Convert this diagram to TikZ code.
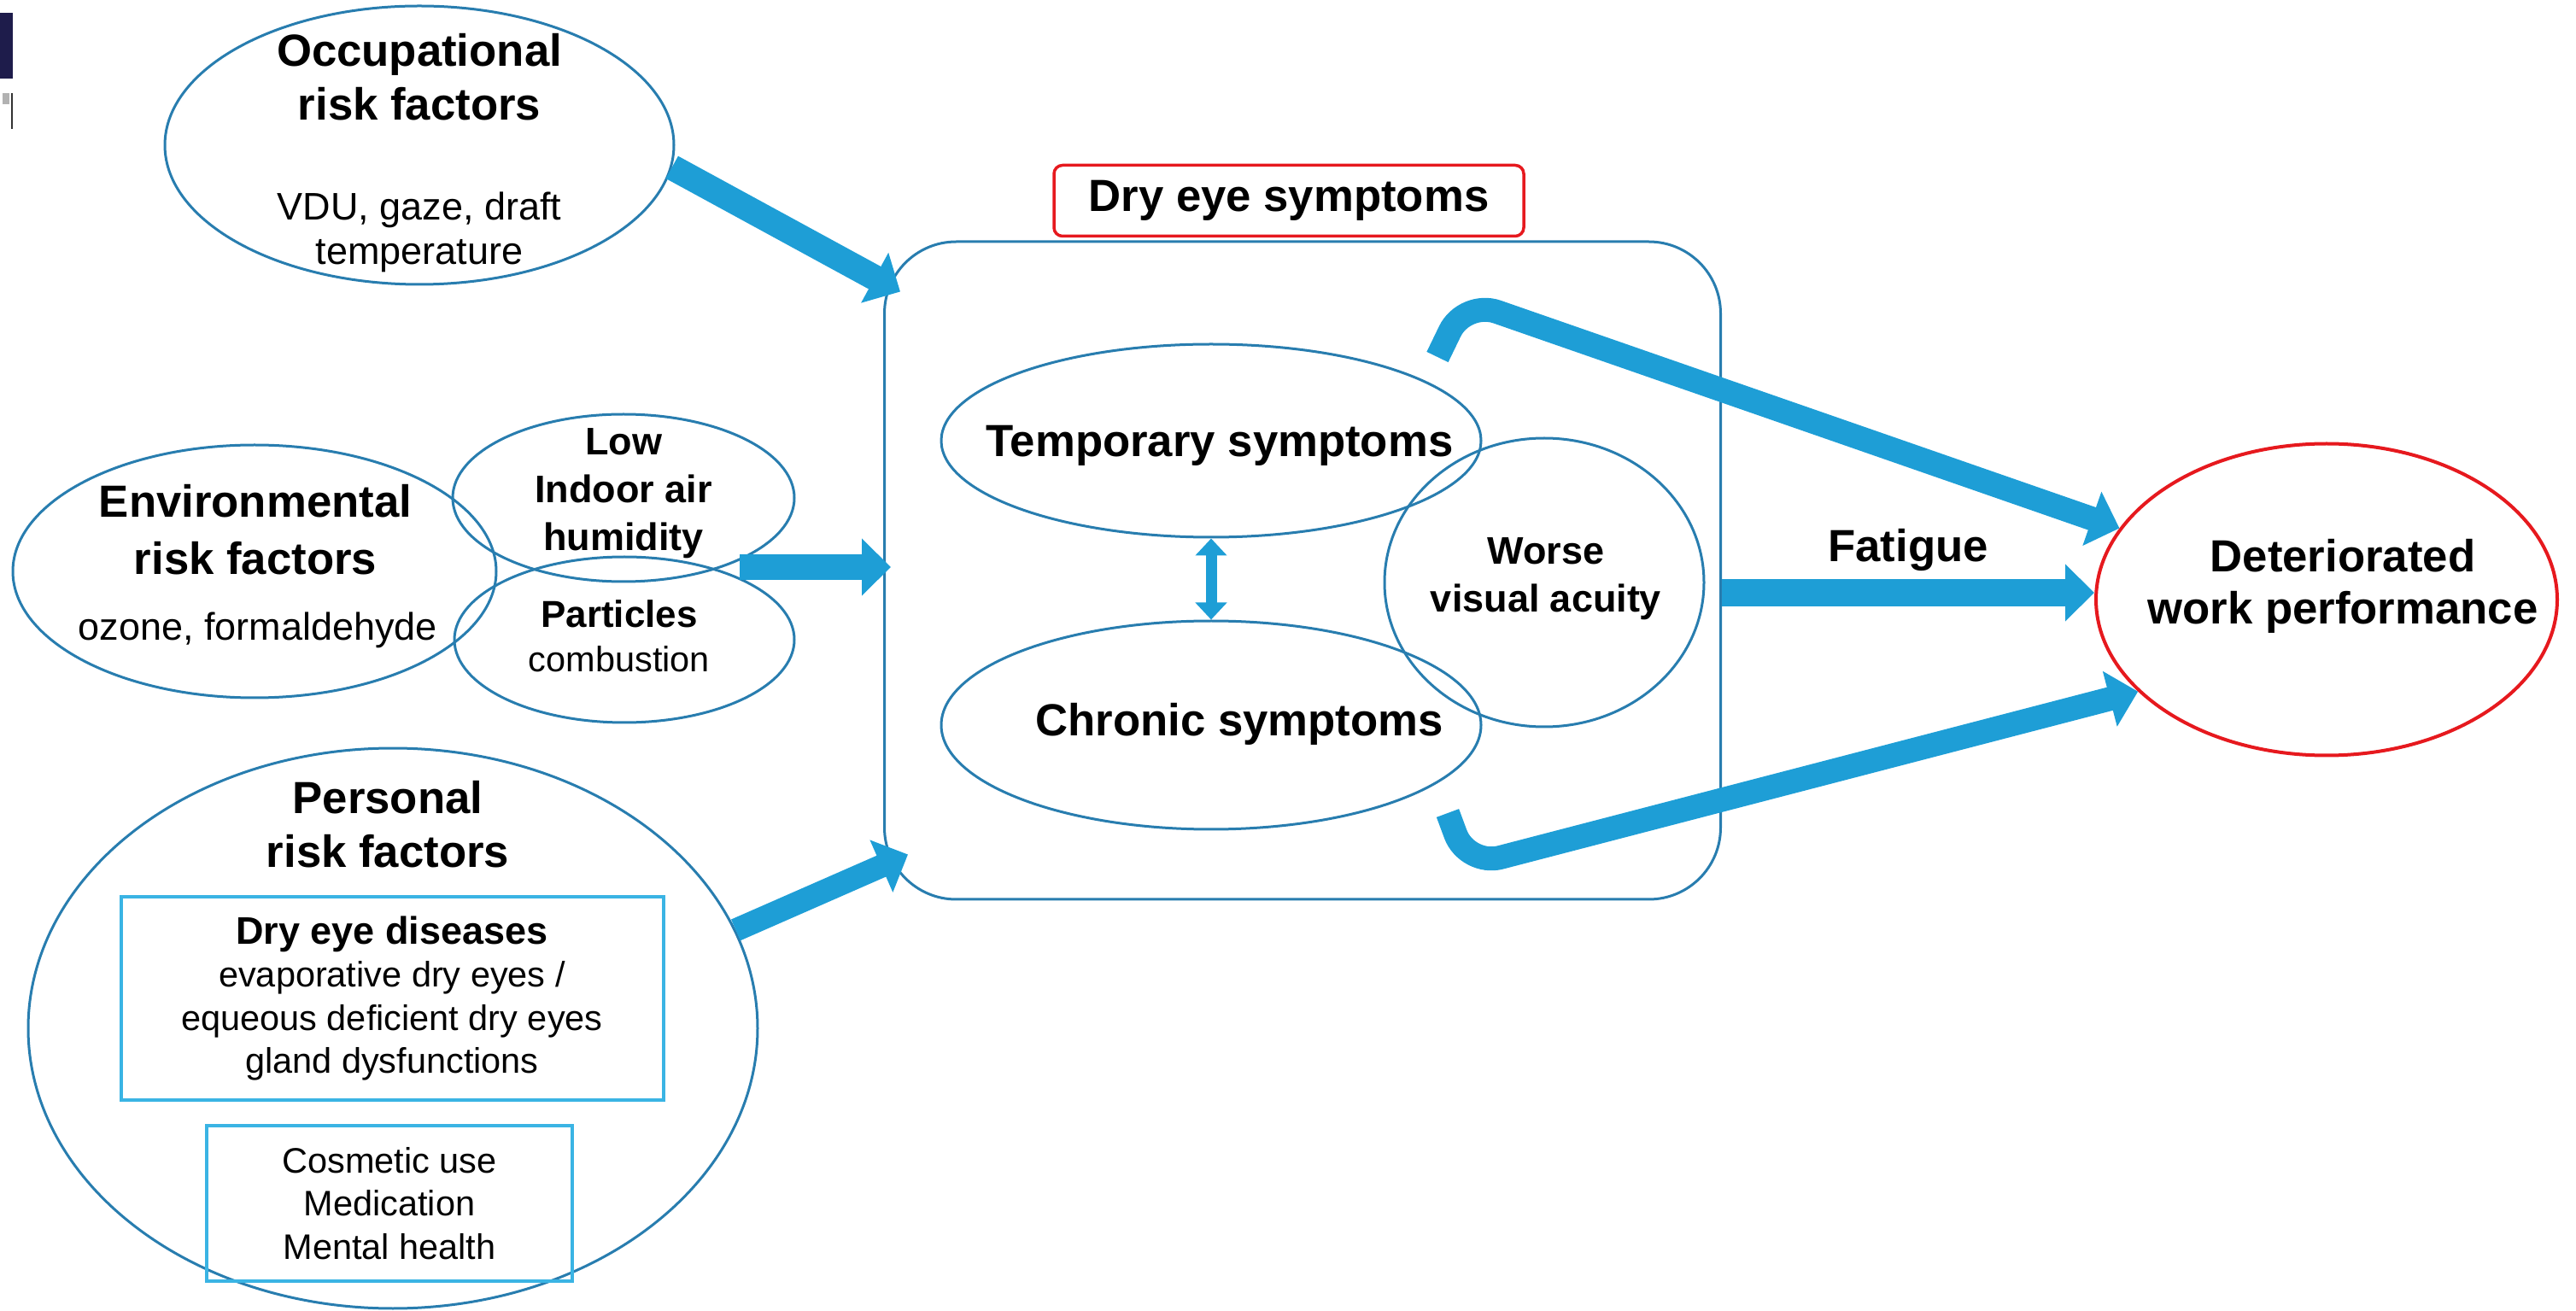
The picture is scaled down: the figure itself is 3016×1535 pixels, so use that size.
\documentclass[tikz,border=0pt]{standalone}
\usepackage{fontspec}
\setmainfont{Liberation Sans}
\usetikzlibrary{positioning, arrows.meta, shapes.geometric, calc}

\definecolor{ringblue}{RGB}{40,125,175}
\definecolor{arrowblue}{RGB}{30,158,214}
\definecolor{boxcyan}{RGB}{58,180,228}
\definecolor{alertred}{RGB}{230,25,30}
\definecolor{slidenavy}{RGB}{30,28,75}

\begin{document}
\begin{tikzpicture}[x=0.1mm, y=-0.1mm,
  risk/.style={draw=ringblue, ellipse, line width=0.3mm, inner sep=0pt},
  grp/.style={draw=ringblue, rectangle, rounded corners=8.4mm, line width=0.3mm, inner sep=0pt},
  ttl/.style={draw=alertred, rectangle, rounded corners=1mm, line width=0.35mm, inner sep=0pt,
              font=\fontsize{15}{18}\selectfont\bfseries},
  tbox/.style={draw=boxcyan, rectangle, line width=0.4mm, inner sep=0pt, align=center,
               font=\fontsize{11.8}{14.4}\selectfont},
  hd/.style={align=center, inner sep=0pt, font=\fontsize{15}{18}\selectfont\bfseries},
  hds/.style={align=center, inner sep=0pt, font=\fontsize{12.8}{15.9}\selectfont\bfseries},
  txt/.style={align=center, inner sep=0pt, font=\fontsize{12.8}{15}\selectfont},
  big/.style={draw=arrowblue, line width=3mm, -{Triangle[width=6.5mm, length=3.4mm]}},
  dbl/.style={draw=arrowblue, line width=1.3mm,
              {Triangle[width=3.6mm, length=2mm]}-{Triangle[width=3.6mm, length=2mm]}},
]
\useasboundingbox (0,0) rectangle (3016,1535);

% === slide remnants at the left edge ===
\fill[slidenavy] (0,15) rectangle (15,92);
\fill[gray!60] (3,109) rectangle (11,122);
\draw[black!80, line width=0.2mm] (14,109) -- (14,151);

% === Occupational risk factors ===
\node[risk, minimum width=59.6mm, minimum height=32.6mm] (occ) at (491,170) {};
\node[hd] (occT) at (491,90) {Occupational\\risk factors};
\node[txt] (occS) at (491,272) {VDU, gaze, draft\\temperature};

% === Environmental risk factors ===
\node[risk, minimum width=56.6mm, minimum height=29.6mm] (env) at (298,669) {};
\node[hd, font=\fontsize{15}{19}\selectfont\bfseries] (envT) at (299,620) {Environmental\\risk factors};
\node[txt] (envS) at (302,738) {ozone, formaldehyde};

\node[risk, minimum width=40mm, minimum height=19.6mm] (low) at (730,583) {};
\node[hds] (lowT) at (730,578) {Low\\Indoor air\\humidity};

\node[risk, minimum width=39.8mm, minimum height=19.4mm] (part) at (731,749) {};
\node[txt, font=\fontsize{11.8}{14.8}\selectfont] (partT) at (725,745)
     {{\fontsize{12.5}{14.8}\selectfont\bfseries Particles}\\combustion};

% === Personal risk factors ===
\node[risk, minimum width=85.4mm, minimum height=65.6mm] (pers) at (460,1204) {};
\node[hd] (persT) at (454,965) {Personal\\risk factors};
\node[tbox, minimum width=63.5mm, minimum height=23.8mm] (dis) at (459,1169)
     {{\fontsize{12.8}{15}\selectfont\bfseries Dry eye diseases}\\evaporative dry eyes /\\equeous deficient dry eyes\\gland dysfunctions};
\node[tbox, minimum width=42.8mm, minimum height=18.2mm] (misc) at (456,1409)
     {Cosmetic use\\Medication\\Mental health};

% === Dry eye symptoms ===
\node[grp, minimum width=97.9mm, minimum height=77mm] (box) at (1525,668) {};
\node[ttl, minimum width=55mm, minimum height=8.3mm] (boxT) at (1509,235) {Dry eye symptoms};

\node[risk, minimum width=63.2mm, minimum height=22.6mm] (tmp) at (1418,516) {};
\node[hd] (tmpT) at (1428,522) {Temporary symptoms};
\node[risk, minimum width=63.2mm, minimum height=24.4mm] (chr) at (1418,849) {};
\node[hd] (chrT) at (1451,848) {Chronic symptoms};
\node[risk, minimum width=37.4mm, minimum height=33.8mm] (vis) at (1808,682) {};
\node[hds] (visT) at (1810,678) {Worse\\visual acuity};

% === Deteriorated work performance ===
\node[risk, draw=alertred, line width=0.4mm, minimum width=54mm, minimum height=36.5mm] (perf) at (2724,702) {};
\node[hd, font=\fontsize{15}{17.3}\selectfont\bfseries] (perfT) at (2743,686) {Deteriorated\\work performance};

% === Arrows ===
\coordinate (envout) at (866,664);
\coordinate (bendA) at (1683,418);
\coordinate (kneeA) at (1715,352);
\coordinate (bendB) at (1695,952);
\coordinate (kneeB) at (1718,1014);

\draw[big] (occ.-5) -- ([xshift=2mm, yshift=-6mm]box.north west);
\draw[big] (envout) -- ([xshift=0.9mm]envout -| box.west);
\draw[big, line width=2.7mm] (pers.16) -- ([xshift=2.9mm, yshift=5.4mm]box.south west);
\draw[dbl] (tmp.south) -- (chr.north);
\draw[big, line width=2.8mm, rounded corners=4mm] (bendA) -- (kneeA) -- (perf.161);
\draw[big, line width=2.8mm, rounded corners=4mm] (bendB) -- (kneeB) -- (perf.206);
\draw[big, line width=3.2mm] ([yshift=0.8mm]perf.west -| box.east)
  -- node[hd, above=0.9mm] (fat) {Fatigue} ([yshift=0.8mm]perf.west);

\end{tikzpicture}
\end{document}
